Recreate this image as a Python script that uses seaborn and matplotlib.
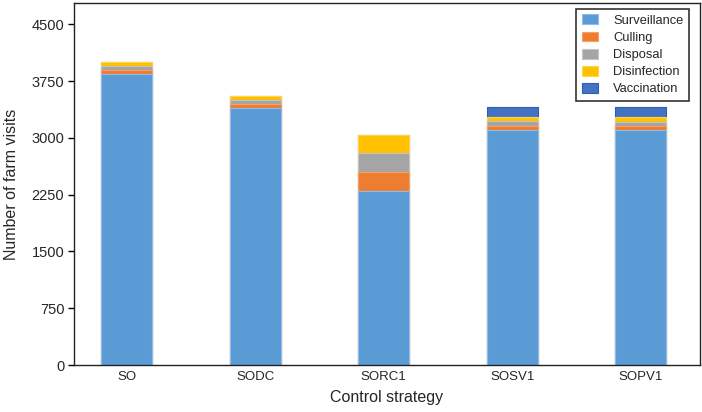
import pandas as pd
import matplotlib
matplotlib.use('Agg')
import matplotlib.pyplot as plt
from matplotlib.patches import Patch
import seaborn as sns

# values
strategies = ['SO', 'SODC', 'SORC1', 'SOSV1', 'SOPV1']
surveillance = [3840, 3400, 2300, 3110, 3100]
culling = [57, 53, 250, 53, 57]
disposal = [53, 53, 247, 53, 53]
disinfection = [53, 53, 247, 53, 62]
vaccination = [0, 0, 0, 136, 132]

components = ['Surveillance', 'Culling', 'Disposal', 'Disinfection', 'Vaccination']
colors = ['#5B9BD5', '#ED7D31', '#A5A5A5', '#FFC000', '#4472C4']
edges = ['#8DBDE8', '#F4A066', '#C4C4C4', '#FFD54D', '#2F5DB5']

df = pd.DataFrame({'strategy': strategies,
                   'Surveillance': surveillance,
                   'Culling': culling,
                   'Disposal': disposal,
                   'Disinfection': disinfection,
                   'Vaccination': vaccination})

# cumulative heights so the layers stack
cum = df[components].cumsum(axis=1)
cum['strategy'] = df['strategy']

sns.set_style('white')
plt.rcParams['font.family'] = ['Liberation Sans', 'DejaVu Sans']

fig = plt.figure(figsize=(7.02, 4.12), dpi=100)
ax = fig.add_axes([0.1054, 0.114, 0.8916, 0.8786])

# draw the top layer first, then cover it with the lower ones
for comp, col, ec in reversed(list(zip(components, colors, edges))):
    sns.barplot(data=cum, x='strategy', y=comp, color=col, width=0.4,
                saturation=1, edgecolor=ec, linewidth=0.8, ax=ax)

ax.set_xlim(-0.41, 4.46)
ax.set_ylim(0, 4780)
ax.set_yticks([0, 750, 1500, 2250, 3000, 3750, 4500])
ax.tick_params(axis='y', which='major', length=4, width=1, color='black',
               left=True, labelsize=10.5, pad=3)
ax.tick_params(axis='x', length=0, labelsize=9.5, pad=4)
ax.set_xlabel('Control strategy', fontsize=11.5, labelpad=5)
ax.set_ylabel('Number of farm visits', fontsize=11.5, labelpad=9)

for side in ['left', 'bottom', 'top', 'right']:
    ax.spines[side].set_visible(True)
    ax.spines[side].set_color('#222222')
    ax.spines[side].set_linewidth(1.0)

handles = [Patch(facecolor=c, edgecolor=e, linewidth=0.8, label=n)
           for n, c, e in zip(components, colors, edges)]
leg = ax.legend(handles=handles, loc='upper right',
                bbox_to_anchor=(0.9824, 0.9834), borderaxespad=0,
                fontsize=9.3, frameon=True, fancybox=False, edgecolor='black',
                handlelength=1.3, handleheight=0.8,
                labelspacing=0.36, handletextpad=1.15, borderpad=0.42)
leg.get_frame().set_linewidth(1.2)

fig.savefig('out.png', dpi=100)
